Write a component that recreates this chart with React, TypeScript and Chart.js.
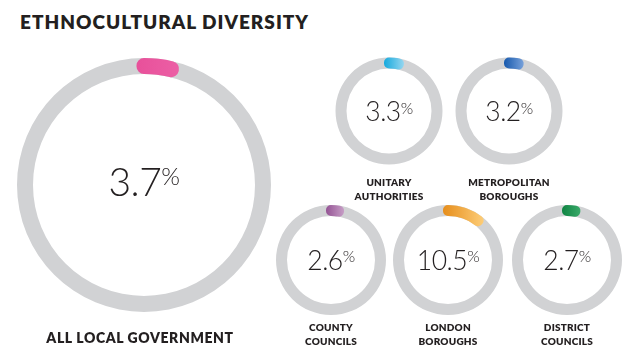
import React, { useEffect, useRef } from "react";
import { Chart, registerables } from "chart.js";

Chart.register(...registerables);

// ---- data ----
const TITLE = "ETHNOCULTURAL DIVERSITY";
const categories: string[][] = [
  ["ALL LOCAL GOVERNMENT"],
  ["UNITARY", "AUTHORITIES"],
  ["METROPOLITAN", "BOROUGHS"],
  ["COUNTY", "COUNCILS"],
  ["LONDON", "BOROUGHS"],
  ["DISTRICT", "COUNCILS"],
];
const values = [3.7, 3.3, 3.2, 2.6, 10.5, 2.7];
const valueLabels = ["3.7", "3.3", "3.2", "2.6", "10.5", "2.7"];
const colorStart = ["#e8509a", "#12a8dd", "#1457ac", "#935193", "#e68d1a", "#0e8341"];
const colorEnd = ["#ec5fa5", "#98d7f0", "#79a2db", "#c8a0c7", "#fdcd78", "#3bab6b"];

// ---- layout (styling, not data) ----
type L = {
  cx: number; cy: number; r: number; t: number;
  vSize: number; pSize: number; vCy: number;
  lSize: number; lTop: number; lLH: number; lSp: number; lCx: number;
};
const LAYOUT: L[] = [
  { cx: 144, cy: 185, r: 127, t: 16, vSize: 39, pSize: 24, vCy: 183, lSize: 14, lTop: 331, lLH: 14, lSp: 0.6, lCx: 140 },
  { cx: 389, cy: 111, r: 53.5, t: 11, vSize: 26.5, pSize: 16, vCy: 112.5, lSize: 10, lTop: 176, lLH: 13.5, lSp: 0.2, lCx: 389 },
  { cx: 509, cy: 111, r: 53.5, t: 11, vSize: 26.5, pSize: 16, vCy: 112.5, lSize: 10, lTop: 176, lLH: 13.5, lSp: 0.2, lCx: 509 },
  { cx: 331, cy: 260, r: 55, t: 11, vSize: 26.5, pSize: 16, vCy: 261, lSize: 10, lTop: 320, lLH: 14, lSp: 0.2, lCx: 331 },
  { cx: 448, cy: 260, r: 55, t: 11, vSize: 26.5, pSize: 16, vCy: 261, lSize: 10, lTop: 320, lLH: 14, lSp: 0.2, lCx: 448 },
  { cx: 567, cy: 260, r: 55, t: 11, vSize: 26.5, pSize: 16, vCy: 261, lSize: 10, lTop: 320, lLH: 14, lSp: 0.2, lCx: 567 },
];

const TRACK = "#d1d2d4";
const TEXT = "#231f20";

function Ring({ value, lay, c0, c1 }: { value: number; lay: L; c0: string; c1: string }) {
  const trackRef = useRef<HTMLCanvasElement>(null);
  const arcRef = useRef<HTMLCanvasElement>(null);
  const S = Math.ceil(lay.r) * 2 + 4;

  useEffect(() => {
    const { r, t } = lay;
    const mid = r - t / 2;
    const common: any = {
      responsive: false,
      maintainAspectRatio: false,
      animation: false,
      events: [],
      layout: { padding: 0 },
      plugins: { legend: { display: false }, tooltip: { enabled: false }, title: { display: false } },
    };
    const track = new Chart(trackRef.current!, {
      type: "doughnut",
      data: {
        labels: ["track"],
        datasets: [{ data: [100], backgroundColor: TRACK, borderWidth: 0 }],
      },
      options: { ...common, radius: r, cutout: ((r - t) / r) * 100 + "%" },
    });

    const grad = (ctx: any) => {
      const chart = ctx.chart;
      const area = chart.chartArea;
      if (!area) return c0;
      const cx = (area.left + area.right) / 2;
      const ang = Math.min((value / 100) * 2 * Math.PI, Math.PI / 2);
      const g = chart.ctx.createLinearGradient(cx - t / 2, 0, cx + mid * Math.sin(ang) + t / 2, 0);
      g.addColorStop(0, c0);
      g.addColorStop(1, c1);
      return g;
    };

    const arc = new Chart(arcRef.current!, {
      type: "doughnut",
      data: {
        labels: ["value", "rest"],
        datasets: [
          {
            data: [value, 100 - value],
            backgroundColor: (ctx: any) => (ctx.dataIndex === 0 ? grad(ctx) : "rgba(0,0,0,0)"),
            borderColor: (ctx: any) => (ctx.dataIndex === 0 ? grad(ctx) : "rgba(0,0,0,0)"),
            borderWidth: (ctx: any) => (ctx.dataIndex === 0 ? t - 1 : 0),
            borderJoinStyle: "round",
            borderAlign: "center",
          } as any,
        ],
      },
      options: { ...common, radius: mid + 0.5, cutout: ((mid - 0.5) / (mid + 0.5)) * 100 + "%" },
    });
    return () => {
      track.destroy();
      arc.destroy();
    };
  }, []);

  const pos: React.CSSProperties = {
    position: "absolute",
    left: lay.cx - S / 2,
    top: lay.cy - S / 2,
    width: S,
    height: S,
  };
  return (
    <>
      <canvas ref={trackRef} width={S} height={S} style={pos} />
      <canvas ref={arcRef} width={S} height={S} style={pos} />
    </>
  );
}

function Item({ i }: { i: number }) {
  const lay = LAYOUT[i];
  return (
    <>
      <Ring value={values[i]} lay={lay} c0={colorStart[i]} c1={colorEnd[i]} />
      <div
        style={{
          position: "absolute",
          left: lay.cx,
          top: lay.vCy - 0.529 * lay.vSize,
          transform: "translateX(-50%)",
          display: "flex",
          alignItems: "flex-start",
          whiteSpace: "nowrap",
          color: TEXT,
          fontWeight: 300,
        }}
      >
        <span style={{ fontSize: lay.vSize, lineHeight: lay.vSize + "px", letterSpacing: -0.5 }}>
          {valueLabels[i]}
        </span>
        <span
          style={{
            fontSize: lay.pSize,
            lineHeight: lay.pSize + "px",
            marginTop: 0.17 * (lay.vSize - lay.pSize) - 0.5,
            marginLeft: 0,
            letterSpacing: -0.5,
          }}
        >
          %
        </span>
      </div>
      <div
        style={{
          position: "absolute",
          left: lay.lCx,
          top: lay.lTop,
          transform: "translateX(-50%)",
          textAlign: "center",
          whiteSpace: "nowrap",
          fontWeight: 800,
          fontSize: lay.lSize,
          lineHeight: lay.lLH + "px",
          letterSpacing: lay.lSp,
          color: TEXT,
        }}
      >
        {categories[i].map((line, k) => (
          <div key={k}>{line}</div>
        ))}
      </div>
    </>
  );
}

export default function App() {
  return (
    <div
      style={{
        position: "absolute",
        left: 0,
        top: 0,
        width: 640,
        height: 362,
        background: "#ffffff",
        overflow: "hidden",
        fontFamily: "Lato, 'Open Sans', sans-serif",
      }}
    >
      <div
        style={{
          position: "absolute",
          left: 20,
          top: 11.5,
          fontSize: 19,
          lineHeight: "19px",
          fontWeight: 800,
          letterSpacing: 1,
          color: TEXT,
          whiteSpace: "nowrap",
        }}
      >
        {TITLE}
      </div>
      {values.map((_, i) => (
        <Item key={i} i={i} />
      ))}
    </div>
  );
}
